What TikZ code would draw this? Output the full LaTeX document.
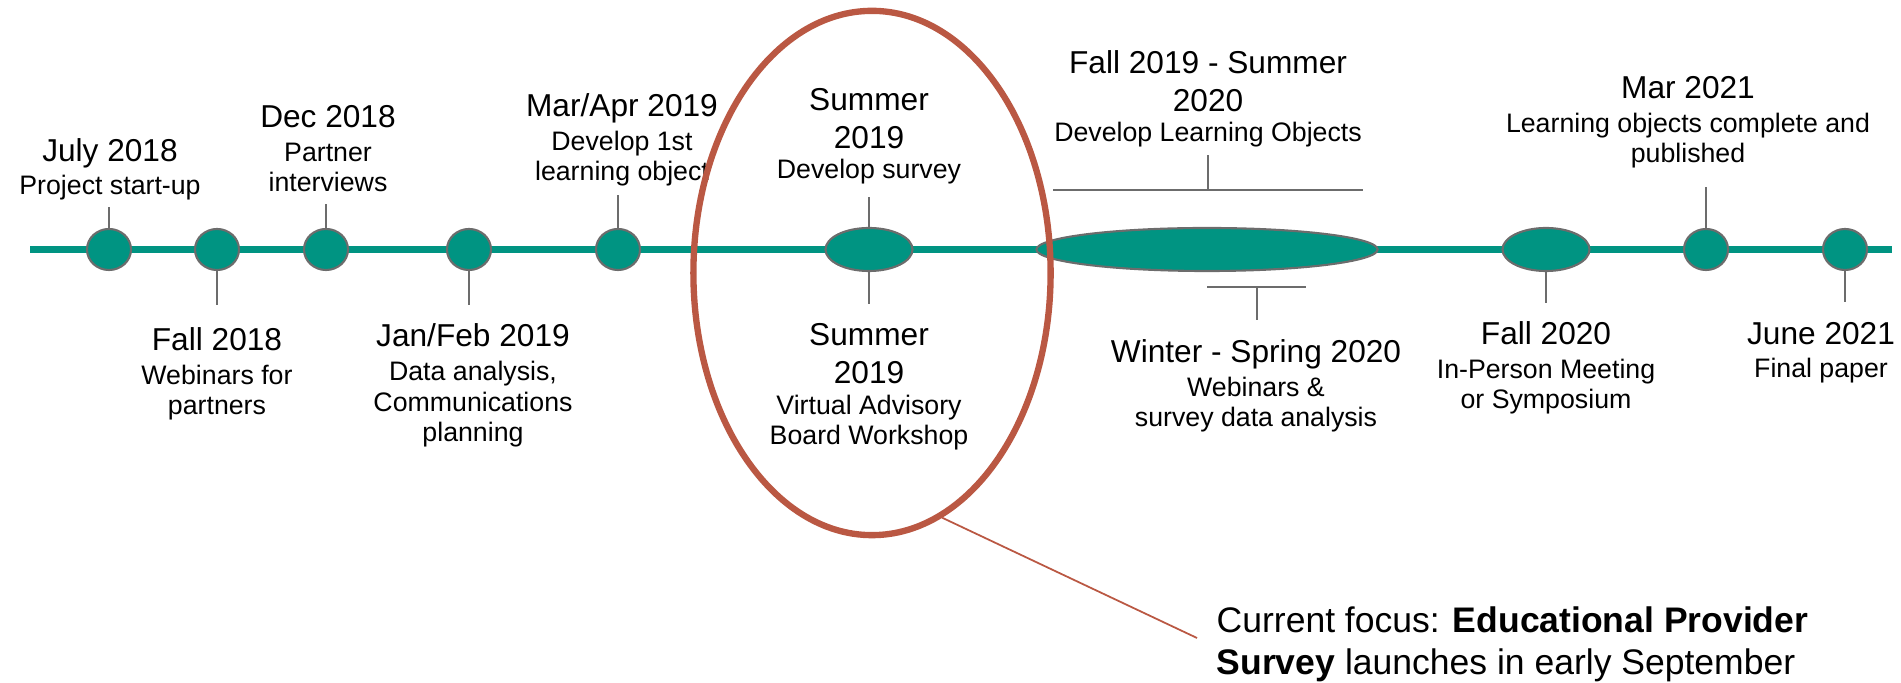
\documentclass[tikz,border=0pt]{standalone}
\usepackage{fontspec}
\setmainfont{Liberation Sans}
\usetikzlibrary{shapes.geometric}

\definecolor{lineteal}{RGB}{0,148,130}
\definecolor{rimgray}{RGB}{108,108,108}
\definecolor{focusred}{RGB}{186,88,67}
\newcommand{\dt}[1]{{\fontsize{9}{10}\selectfont #1}}

\begin{document}
\begin{tikzpicture}[x=0.01cm,y=-0.01cm,
    dot/.style={ellipse,fill=lineteal,draw=rimgray,line width=0.6pt,inner sep=0pt,minimum width=0.44cm,minimum height=0.41cm},
    longdot/.style={dot,minimum width=0.87cm,minimum height=0.43cm},
    tick/.style={draw=rimgray,line width=0.6pt},
    lbl/.style={align=center,inner sep=0pt,anchor=base,font=\fontsize{7.6}{8.8}\selectfont}]
            \useasboundingbox (0,0) rectangle (1901,683);
            \draw[lineteal,line width=2.1pt] (30,249.5) -- (1892,249.5);

            \node[dot] (jul18) at (109,249.5) {};
            \node[dot] (fall18) at (217,249.5) {};
            \node[dot] (dec18) at (326,249.5) {};
            \node[dot] (jan19) at (469,249.5) {};
            \node[dot] (mar19) at (618,249.5) {};
            \node[longdot] (sum19) at (869,249.5) {};
            \node[longdot,minimum width=3.41cm] (dev20) at (1207,249.5) {};
            \node[longdot] (fall20) at (1546,249.5) {};
            \node[dot] (mar21) at (1706,249.5) {};
            \node[dot] (jun21) at (1845,249.5) {};

            \draw[tick] (jul18.north) -- ++(0,-21) coordinate (jul18t);
            \draw[tick] (fall18.south) -- ++(0,34) coordinate (fall18t);
            \draw[tick] (dec18.north) -- ++(0,-24) coordinate (dec18t);
            \draw[tick] (jan19.south) -- ++(0,34) coordinate (jan19t);
            \draw[tick] (mar19.north) -- ++(0,-33) coordinate (mar19t);
            \draw[tick] (sum19.north) -- ++(0,-30) coordinate (sum19t);
            \draw[tick] (sum19.south) -- ++(0,32) coordinate (sum19b);
            \draw[tick] (fall20.south) -- ++(0,31) coordinate (fall20t);
            \draw[tick] (mar21.north) -- ++(0,-41) coordinate (mar21t);
            \draw[tick] (jun21.south) -- ++(0,31) coordinate (jun21t);

            % brackets for the long phases
            \coordinate (devbr) at (1208,190);
            \draw[tick] (devbr) ++(-155,0) -- ++(310,0);
            \draw[tick] (devbr) -- ++(0,-35) coordinate (devt);
            \coordinate (winbr) at (1257,287);
            \draw[tick] (winbr) ++(-50,0) -- ++(99,0);
            \draw[tick] (winbr) -- ++(0,33) coordinate (wint);

            % labels sit on the baseline of their last line
            \node[lbl] (jul18l) at (110,195) {\dt{July 2018}\\[0.7pt]Project start-up};
            \node[lbl] (fall18l) at (217,415) {\dt{Fall 2018}\\[0.7pt]Webinars for\\partners};
            \node[lbl] (dec18l) at (328,192) {\dt{Dec 2018}\\[0.7pt]Partner\\interviews};
            \node[lbl] (jan19l) at (473,442) {\dt{Jan/Feb 2019}\\[0.7pt]Data analysis,\\Communications\\planning};
            \node[lbl] (mar19l) at (622,181) {\dt{Mar/Apr 2019}\\[0.7pt]Develop 1st\\learning object};
            \node[lbl] (sum19l) at (869,179) {\dt{Summer}\\[1.9pt]\dt{2019}\\Develop survey};
            \node[lbl] (sum19m) at (869,445) {\dt{Summer}\\[1.9pt]\dt{2019}\\Virtual Advisory\\Board Workshop};
            \node[lbl] (devl) at (1208,142) {\dt{Fall 2019 - Summer}\\[1.9pt]\dt{2020}\\Develop Learning Objects};
            \node[lbl] (winl) at (1256,427) {\dt{Winter - Spring 2020}\\[0.7pt]Webinars \&\\survey data analysis};
            \node[lbl] (fall20l) at (1546,409) {\dt{Fall 2020}\\[0.7pt]In-Person Meeting\\or Symposium};
            \node[lbl] (mar21l) at (1688,163) {\dt{Mar 2021}\\[0.7pt]Learning objects complete and\\published};
            \node[lbl] (jun21l) at (1821,378) {\dt{June 2021}\\[0.7pt]Final paper};

            % current focus
            \node[ellipse,draw=focusred,line width=1.8pt,inner sep=0pt,minimum width=3.57cm,minimum height=5.24cm] (focus) at (872,273) {};
            \coordinate (focusend) at (1197,638);
            \draw[focusred,line width=0.5pt] (focus.-74) -- (focusend);
            \node[anchor=base west,align=left,inner sep=0pt,font=\fontsize{10.1}{12}\selectfont] (focustxt) at (1216,675)
                {Current focus: \textbf{Educational Provider}\\\textbf{Survey} launches in early September};
        \end{tikzpicture}
\end{document}
